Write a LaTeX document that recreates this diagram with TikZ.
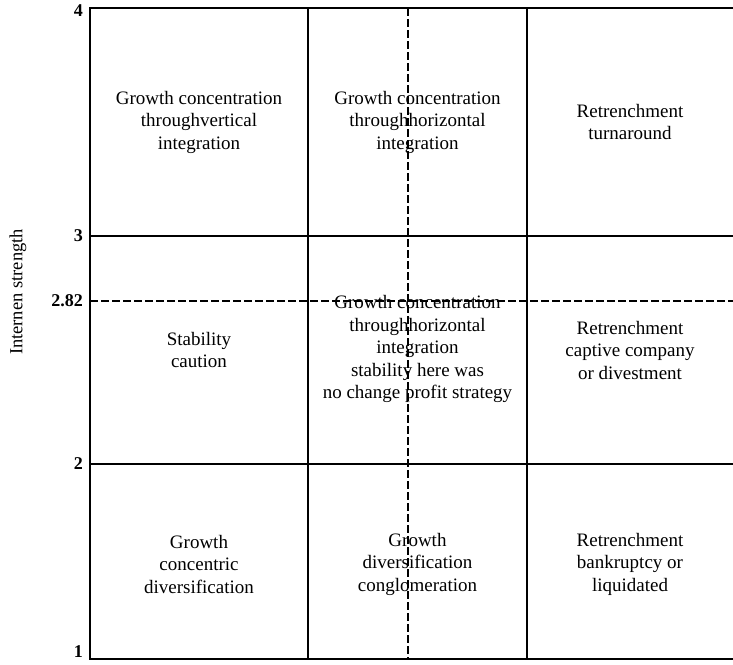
\documentclass[tikz,border=0pt]{standalone}
\usepackage{fontspec}
\setmainfont{Liberation Serif}
\usetikzlibrary{positioning}

\tikzset{
  cell/.style={align=center, inner sep=0pt, font=\fontsize{19}{22.5}\selectfont},
  ticklabel/.style={left, inner sep=3pt, font=\fontsize{18}{20}\selectfont\bfseries},
  gridline/.style={line width=2pt},
  midline/.style={line width=2pt, dash pattern=on 8pt off 3pt}
}

\begin{document}
\begin{tikzpicture}[x=1pt, y=-1pt]
\useasboundingbox (0,0) rectangle (733,664);
\draw[gridline] (733,8) -- (90,8) -- (90,659) -- (733,659);
\foreach \y in {236,464} \draw[gridline] (90,\y) -- (733,\y);
\foreach \x in {308,527} \draw[gridline] (\x,8) -- (\x,659);
\draw[midline] (90,301) -- (733,301); % mean values
\draw[midline] (408,8) -- (408,659);

\foreach \y/\t/\n in {11/4/ta, 236/3/tb, 301/2.82/tc, 464/2/td, 652/1/te}
  \node[ticklabel] (\n) at (86,\y) {\t};
\node[rotate=90, font=\fontsize{18.5}{20}\selectfont] (ytitle) at (18,292) {Internen strength};

\node[cell] (c11) at (199,122) {Growth concentration\\throughvertical\\integration};
\node[cell] (c12) at (417.5,122) {Growth concentration\\throughhorizontal\\integration};
\node[cell] (c13) at (630,122) {Retrenchment\\turnaround};
\node[cell] (c21) at (199,350) {Stability\\caution};
\node[cell] (c22) at (417.5,349) {Growth concentration\\throughhorizontal\\integration\\stability here was\\no change profit strategy};
\node[cell] (c23) at (630,350) {Retrenchment\\captive company\\or divestment};
\node[cell] (c31) at (199,564) {Growth\\concentric\\diversification};
\node[cell] (c32) at (417.5,564) {Growth\\diversification\\conglomeration};
\node[cell] (c33) at (630,564) {Retrenchment\\bankruptcy or\\liquidated};
\end{tikzpicture}
\end{document}
